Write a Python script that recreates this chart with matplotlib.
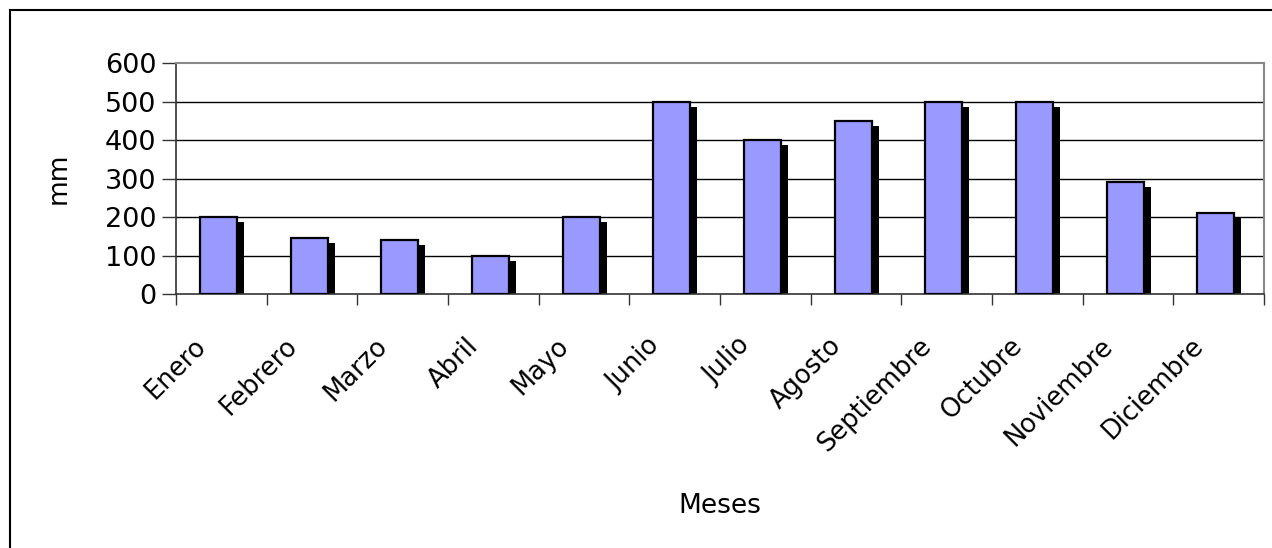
import matplotlib.pyplot as plt
from matplotlib.lines import Line2D
from matplotlib.transforms import ScaledTranslation
import numpy as np

# data
meses = ['Enero', 'Febrero', 'Marzo', 'Abril', 'Mayo', 'Junio', 'Julio',
         'Agosto', 'Septiembre', 'Octubre', 'Noviembre', 'Diciembre']
mm = [200, 145, 140, 100, 200, 500, 400, 450, 500, 500, 290, 211]

plt.rcParams['font.family'] = ['DejaVu Sans']

fig = plt.figure(figsize=(12.72, 5.48), dpi=100)
ax = fig.add_axes([0.1384, 0.4635, 0.8553, 0.4215])

x = np.arange(len(meses))
w = 0.408
# shadow behind each bar, a bit to the right and lower
ax.bar(x - 0.031 + 0.077, np.array(mm) - 13, width=w, color='black', zorder=2)
ax.bar(x - 0.031, mm, width=w, color='#9999ff', edgecolor='black', linewidth=1.6, zorder=3)

ax.set_xlim(-0.5, 11.5)
ax.set_ylim(0, 600)
ax.set_yticks(range(0, 601, 100))
for v in range(100, 600, 100):
    ax.axhline(v, color='black', lw=1, zorder=1)

# month labels, rotated, ending a little left of each category centre
ax.set_xticks(x)
ax.set_xticklabels([])
off = ScaledTranslation(-0.28, -0.39, fig.dpi_scale_trans)
for i, m in enumerate(meses):
    ax.text(x[i], 0, m, transform=ax.get_xaxis_transform() + off, rotation=45,
            ha='right', va='top', rotation_mode='anchor', fontsize=18.5)
ax.set_xticks(np.arange(-0.5, 12, 1), minor=True)
ax.tick_params(axis='x', which='major', length=0)
ax.tick_params(axis='x', which='minor', length=8, width=1, color='#333333')
ax.tick_params(axis='y', length=10, width=1, color='#333333', labelsize=19.5, pad=4)

for s in ['top', 'right']:
    ax.spines[s].set_color('#888888')
    ax.spines[s].set_linewidth(1.5)
for s in ['left', 'bottom']:
    ax.spines[s].set_color('#333333')
    ax.spines[s].set_linewidth(1.2)

ax.set_ylabel('mm', fontsize=19, labelpad=24)
ax.set_xlabel('Meses', fontsize=19)
ax.xaxis.set_label_coords(0.5, -0.86)

# outer chart frame (only left and top edges visible)
fig.add_artist(Line2D([10 / 1272, 10 / 1272], [0, 1 - 10 / 548], color='black', lw=1.5))
fig.add_artist(Line2D([10 / 1272, 1], [1 - 10 / 548, 1 - 10 / 548], color='black', lw=1.5))

fig.savefig('out.png', dpi=100)
